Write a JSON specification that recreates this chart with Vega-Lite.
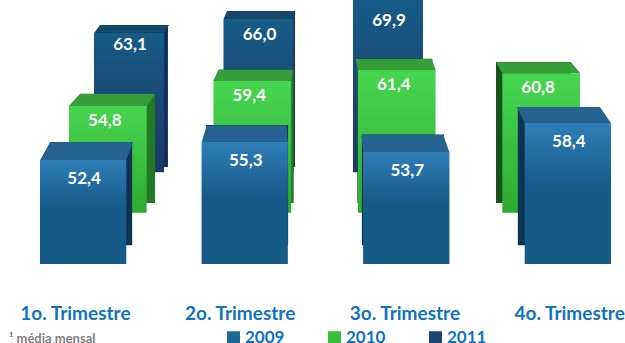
{
  "$schema": "https://vega.github.io/schema/vega-lite/v6.json",
  "width": 625,
  "height": 264,
  "autosize": "none",
  "padding": {"left": 0, "top": 0, "right": 0, "bottom": 79},
  "background": "white",
  "config": {
    "view": {"stroke": null},
    "locale": {"number": {"decimal": ",", "thousands": ".", "grouping": [3], "currency": ["R$", ""]}},
    "text": {"font": "Lato"}
  },
  "title": {
    "text": "¹ média mensal",
    "orient": "bottom",
    "anchor": "start",
    "frame": "group",
    "font": "Lato",
    "fontSize": 13,
    "fontWeight": "bold",
    "color": "#7F7F7F",
    "offset": -13,
    "dx": 9
  },
  "datasets": {
    "producao": [
      {"trimestre": "1o. Trimestre", "serie": "2009", "valor": 52.4},
      {"trimestre": "2o. Trimestre", "serie": "2009", "valor": 55.3},
      {"trimestre": "3o. Trimestre", "serie": "2009", "valor": 53.7},
      {"trimestre": "4o. Trimestre", "serie": "2009", "valor": 58.4},
      {"trimestre": "1o. Trimestre", "serie": "2010", "valor": 54.8},
      {"trimestre": "2o. Trimestre", "serie": "2010", "valor": 59.4},
      {"trimestre": "3o. Trimestre", "serie": "2010", "valor": 61.4},
      {"trimestre": "4o. Trimestre", "serie": "2010", "valor": 60.8},
      {"trimestre": "1o. Trimestre", "serie": "2011", "valor": 63.1},
      {"trimestre": "2o. Trimestre", "serie": "2011", "valor": 66.0},
      {"trimestre": "3o. Trimestre", "serie": "2011", "valor": 69.9}
    ]
  },
  "data": {"name": "producao"},
  "resolve": {
    "scale": {"x": "independent", "y": "independent", "shape": "independent", "color": "independent"},
    "axis": {"x": "independent", "y": "independent"}
  },
  "layer": [
    {
      "description": "Category axis and series legend",
      "mark": {"type": "square", "opacity": 0},
      "encoding": {
        "x": {
          "field": "trimestre",
          "type": "nominal",
          "scale": {"type": "band", "domain": ["1o. Trimestre", "2o. Trimestre", "3o. Trimestre", "4o. Trimestre"], "range": [-7, 652], "paddingInner": 0, "paddingOuter": 0},
          "axis": {"title": null, "orient": "bottom", "labelAngle": 0, "domain": false, "ticks": false, "labelFont": "Lato", "labelFontSize": 19, "labelFontWeight": "bold", "labelColor": "#0F73BD", "labelPadding": 49, "labelBaseline": "middle"}
        },
        "color": {
          "field": "serie",
          "type": "nominal",
          "scale": {"domain": ["2009", "2010", "2011"], "range": ["#1F6899", "#36BE3D", "#1D4670"]},
          "legend": {"title": null, "orient": "none", "legendX": 225, "legendY": 329, "direction": "horizontal", "symbolType": "square", "symbolSize": 169, "symbolOpacity": 1, "labelFont": "Lato", "labelFontSize": 17, "labelFontWeight": "bold", "labelColor": "#0F73BD", "labelOffset": 3, "columnPadding": 41}
        }
      }
    },
    {
      "description": "2011 back face",
      "transform": [{"filter": "datum.serie == '2011'"}],
      "mark": {"type": "bar", "fill": "#11305A"},
      "encoding": {
        "x": {"field": "trimestre", "type": "nominal", "axis": null, "scale": {"type": "band", "domain": ["1o. Trimestre", "2o. Trimestre", "3o. Trimestre", "4o. Trimestre"], "range": [100, 549], "paddingInner": 0.465, "paddingOuter": 0}},
        "y": {"field": "valor", "type": "quantitative", "axis": null, "scale": {"domain": [13.6, 68.3], "nice": false, "zero": false}},
        "y2": {"datum": 33.7}
      }
    },
    {
      "description": "2011 top and front faces",
      "transform": [{"filter": "datum.serie == '2011'"}],
      "encoding": {
        "x": {"field": "trimestre", "type": "nominal", "axis": null, "scale": {"type": "band", "domain": ["1o. Trimestre", "2o. Trimestre", "3o. Trimestre", "4o. Trimestre"], "range": [94, 552.5], "paddingInner": 0.459, "paddingOuter": 0}},
        "y": {"field": "valor", "type": "quantitative", "axis": null, "scale": {"domain": [15.47, 69.9], "nice": false, "zero": false}}
      },
      "layer": [
        {
          "mark": {"type": "point", "filled": true, "fill": "#14486B", "opacity": 1, "size": 4},
          "encoding": {
            "shape": {"field": "trimestre", "type": "nominal", "legend": null, "scale": {"domain": ["1o. Trimestre", "2o. Trimestre", "3o. Trimestre", "4o. Trimestre"], "range": ["M-35,0L-29,-8L40,-8L35,0Z", "M-35,0L-31.5,-8L35.5,-8L35,0Z", "M-35,0L-39,-8L31,-8L35,0Z", "M-35,0L-39,-8L31,-8L35,0Z"]}}
          }
        },
        {
          "mark": {"type": "bar", "fill": {"gradient": "linear", "x1": 0, "y1": 0, "x2": 0, "y2": 1, "stops": [{"offset": 0, "color": "#175C88"}, {"offset": 0.75, "color": "#1B3E6B"}, {"offset": 1, "color": "#1B3A66"}]}},
          "encoding": {"y2": {"datum": 34.4}}
        }
      ]
    },
    {
      "description": "2011 value labels",
      "transform": [{"filter": "datum.serie == '2011'"}],
      "mark": {"type": "text", "font": "Lato", "fontSize": 17, "fontWeight": "bold", "color": "white", "dx": 1},
      "encoding": {
        "x": {"field": "trimestre", "type": "nominal", "axis": null, "scale": {"type": "band", "domain": ["1o. Trimestre", "2o. Trimestre", "3o. Trimestre", "4o. Trimestre"], "range": [94, 552.5], "paddingInner": 0.459, "paddingOuter": 0}},
        "y": {"field": "valor", "type": "quantitative", "axis": null, "scale": {"domain": [1, 76], "nice": false, "zero": false}},
        "text": {"field": "valor", "type": "quantitative", "format": ".1f"}
      }
    },
    {
      "description": "2010 back face",
      "transform": [{"filter": "datum.serie == '2010'"}],
      "mark": {"type": "bar"},
      "encoding": {
        "x": {"field": "trimestre", "type": "nominal", "axis": null, "scale": {"type": "band", "domain": ["1o. Trimestre", "2o. Trimestre", "3o. Trimestre", "4o. Trimestre"], "range": [80, 571], "paddingInner": 0.459, "paddingOuter": 0}},
        "y": {"field": "valor", "type": "quantitative", "axis": null, "scale": {"domain": [22.72, 72.5], "nice": false, "zero": false}},
        "y2": {"datum": 34.2},
        "color": {"field": "trimestre", "type": "nominal", "legend": null, "scale": {"domain": ["1o. Trimestre", "2o. Trimestre", "3o. Trimestre", "4o. Trimestre"], "range": ["#1F7A22", "#1F7A22", "#17521A", "#17521A"]}}
      }
    },
    {
      "description": "2010 top and front faces with value labels",
      "transform": [{"filter": "datum.serie == '2010'"}],
      "encoding": {
        "x": {"field": "trimestre", "type": "nominal", "axis": null, "scale": {"type": "band", "domain": ["1o. Trimestre", "2o. Trimestre", "3o. Trimestre", "4o. Trimestre"], "range": [69, 580], "paddingInner": 0.462, "paddingOuter": 0}},
        "y": {"field": "valor", "type": "quantitative", "axis": null, "scale": {"domain": [25.8, 74.25], "nice": false, "zero": false}}
      },
      "layer": [
        {
          "mark": {"type": "point", "filled": true, "fill": "#379C3A", "opacity": 1, "size": 4},
          "encoding": {
            "shape": {"field": "trimestre", "type": "nominal", "legend": null, "scale": {"domain": ["1o. Trimestre", "2o. Trimestre", "3o. Trimestre", "4o. Trimestre"], "range": ["M-39,0L-28,-12L47,-12L39,0Z", "M-39,0L-34,-11L40,-11L39,0Z", "M-39,0L-41,-11L35,-11L39,0Z", "M-39,0L-45,-11L30,-11L39,0Z"]}}
          }
        },
        {
          "mark": {"type": "bar", "fill": {"gradient": "linear", "x1": 0, "y1": 0, "x2": 0, "y2": 1, "stops": [{"offset": 0, "color": "#47D650"}, {"offset": 1, "color": "#2DAB32"}]}},
          "encoding": {"y2": {"datum": 35.2}}
        },
        {
          "mark": {"type": "text", "font": "Lato", "fontSize": 17, "fontWeight": "bold", "color": "white", "dy": 15, "dx": -3},
          "encoding": {"text": {"field": "valor", "type": "quantitative", "format": ".1f"}}
        }
      ]
    },
    {
      "description": "2009 back face",
      "transform": [{"filter": "datum.serie == '2009'"}],
      "mark": {"type": "bar", "fill": "#0D3352"},
      "encoding": {
        "x": {"field": "trimestre", "type": "nominal", "axis": null, "scale": {"type": "band", "domain": ["1o. Trimestre", "2o. Trimestre", "3o. Trimestre", "4o. Trimestre"], "range": [50, 600], "paddingInner": 0.473, "paddingOuter": 0}},
        "y": {"field": "valor", "type": "quantitative", "axis": null, "scale": {"domain": [31.47, 76.75], "nice": false, "zero": false}},
        "y2": {"datum": 34.7}
      }
    },
    {
      "description": "2009 top and front faces with value labels",
      "transform": [{"filter": "datum.serie == '2009'"}],
      "encoding": {
        "x": {"field": "trimestre", "type": "nominal", "axis": null, "scale": {"type": "band", "domain": ["1o. Trimestre", "2o. Trimestre", "3o. Trimestre", "4o. Trimestre"], "range": [40, 611], "paddingInner": 0.466, "paddingOuter": 0}},
        "y": {"field": "valor", "type": "quantitative", "axis": null, "scale": {"domain": [35.54, 78.33], "nice": false, "zero": false}}
      },
      "layer": [
        {
          "mark": {"type": "point", "filled": true, "fill": "#26628F", "opacity": 1, "size": 4},
          "encoding": {
            "shape": {"field": "trimestre", "type": "nominal", "legend": null, "scale": {"domain": ["1o. Trimestre", "2o. Trimestre", "3o. Trimestre", "4o. Trimestre"], "range": ["M-43,0L-33,-18L50,-18L43,0Z", "M-43,0L-38,-16.5L42,-16.5L43,0Z", "M-43,0L-45,-17L37,-17L43,0Z", "M-43,0L-51,-16L32,-16L43,0Z"]}}
          }
        },
        {
          "mark": {"type": "bar", "fill": {"gradient": "linear", "x1": 0, "y1": 0, "x2": 0, "y2": 1, "stops": [{"offset": 0, "color": "#2F7FB8"}, {"offset": 0.45, "color": "#175A88"}, {"offset": 1, "color": "#175A88"}]}},
          "encoding": {"y2": {"datum": 35.54}}
        },
        {
          "mark": {"type": "text", "font": "Lato", "fontSize": 17, "fontWeight": "bold", "color": "white", "dy": 19, "dx": 1},
          "encoding": {"text": {"field": "valor", "type": "quantitative", "format": ".1f"}}
        }
      ]
    }
  ]
}
